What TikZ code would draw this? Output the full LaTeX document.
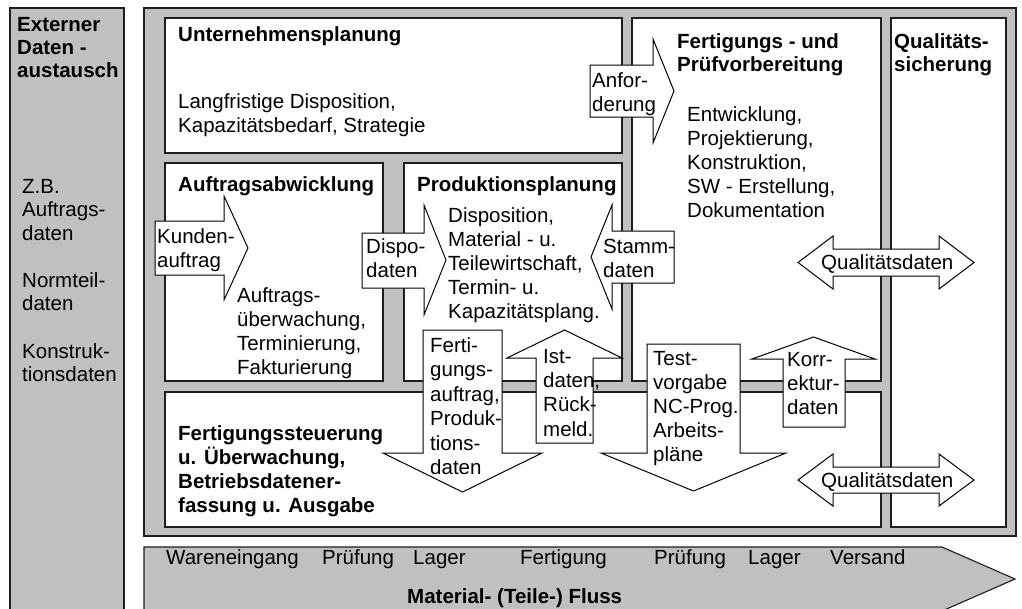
\documentclass[tikz,border=0pt]{standalone}
\usepackage{fontspec}
\setmainfont{Liberation Sans}
\definecolor{panel}{HTML}{C0C0C0}
\definecolor{edge}{HTML}{1E1E1E}
\begin{document}
\begin{tikzpicture}[x=1pt,y=-1pt,
  panelbox/.style={draw=edge, line width=1.1pt, fill=panel},
  whitebox/.style={draw=edge, line width=1.1pt, fill=white},
  blockarrow/.style={draw=black, line width=1pt, fill=white, line join=miter},
  % multi-line texts are placed by the baseline of their last line
  txt/.style={anchor=base west, inner sep=0pt, align=left, font=\fontsize{20.5}{24}\selectfont},
  hd/.style={anchor=base west, inner sep=0pt, align=left, font=\fontsize{20.5}{23.5}\selectfont\bfseries},
  lbl/.style={txt, font=\fontsize{20.5}{24.3}\selectfont},
]
\useasboundingbox (0,0) rectangle (1022,608);
\clip (0,0) rectangle (1022,608);

% side column and main frame
\path[panelbox] (10,8) rectangle (124,630);
\path[panelbox] (144,8) rectangle (1016,536);

% material flow arrow
\path[panelbox] (144,547) -- (942,547) -- (1015,579) -- (942,611) -- (144,611) -- cycle;

% functional areas
\path[whitebox] (165,18) rectangle (622,153);
\path[whitebox] (165,163) rectangle (383,381);
\path[whitebox] (404,163) rectangle (622,381);
\path[whitebox] (632,18) rectangle (881,381);
\path[whitebox] (891,18) rectangle (1006,527);
\path[whitebox] (165,392) rectangle (881,527);

% block arrows for the data flows
\path[blockarrow] (155,221) -- (224,221) -- (224,196) -- (248,248) -- (224,300) -- (224,275) -- (155,275) -- cycle;
\path[blockarrow] (362,233) -- (424,233) -- (424,205) -- (446,260) -- (424,315) -- (424,288) -- (362,288) -- cycle;
\path[blockarrow] (590,65) -- (653,65) -- (653,39) -- (674,91) -- (653,143) -- (653,117) -- (590,117) -- cycle;
\path[blockarrow] (674,231) -- (612,231) -- (612,205) -- (591,257) -- (612,309) -- (612,283) -- (674,283) -- cycle;
\path[blockarrow] (798,262.5) -- (833,236) -- (833,249) -- (939,249) -- (939,236) -- (974,262.5) -- (939,289) -- (939,276) -- (833,276) -- (833,289) -- cycle;
\path[blockarrow] (798,480) -- (833,454) -- (833,467) -- (939,467) -- (939,454) -- (974,480) -- (939,506) -- (939,493) -- (833,493) -- (833,506) -- cycle;
\path[blockarrow] (423,330) -- (502,330) -- (502,453) -- (542,453) -- (462.5,492) -- (383,453) -- (423,453) -- cycle;
\path[blockarrow] (536,443) -- (536,358) -- (507,358) -- (564.5,330) -- (622,358) -- (593,358) -- (593,443) -- cycle;
\path[blockarrow] (647,344) -- (740,344) -- (740,453) -- (786,453) -- (693.5,491) -- (601,453) -- (647,453) -- cycle;
\path[blockarrow] (783,427) -- (783,359) -- (752,359) -- (813.5,337) -- (875,359) -- (845,359) -- (845,427) -- cycle;

% side column texts
\node[hd, font=\fontsize{20.5}{23}\selectfont\bfseries] (ext) at (17,77) {Externer\\Daten -\\austausch};
\node[txt, font=\fontsize{20.5}{23.6}\selectfont] (zb) at (22,240.2) {Z.B.\\Auftrags-\\daten};
\node[txt, font=\fontsize{20.5}{23.6}\selectfont] (norm) at (22,310.6) {Normteil-\\daten};
\node[txt, font=\fontsize{20.5}{23.6}\selectfont] (kons) at (22,381.6) {Konstruk-\\tionsdaten};

% area titles and contents
\node[hd] (uplan) at (178,41) {Unternehmensplanung};
\node[txt] (uplantxt) at (178,132) {Langfristige Disposition,\\Kapazitätsbedarf, Strategie};
\node[hd] (auftr) at (178,191) {Auftragsabwicklung};
\node[txt] (auftrtxt) at (237,374) {Auftrags-\\überwachung,\\Terminierung,\\Fakturierung};
\node[hd] (prod) at (417,191) {Produktionsplanung};
\node[txt] (prodtxt) at (448,318) {Disposition,\\Material - u.\\Teilewirtschaft,\\Termin- u.\\Kapazitätsplang.};
\node[hd] (fert) at (677,71.5) {Fertigungs - und\\Prüfvorbereitung};
\node[txt] (ferttxt) at (687,217) {Entwicklung,\\Projektierung,\\Konstruktion,\\SW - Erstellung,\\Dokumentation};
\node[hd] (qs) at (894,71.5) {Qualitäts-\\sicherung};
\node[hd, font=\fontsize{20.5}{24}\selectfont\bfseries] (steu) at (178,512) {Fertigungssteuerung\\u. Überwachung,\\Betriebsdatener-\\fassung u. Ausgabe};

% arrow labels
\node[lbl] (kunde) at (157,267.3) {Kunden-\\auftrag};
\node[lbl] (dispo) at (366,277.3) {Dispo-\\daten};
\node[lbl] (anf) at (592,111.3) {Anfor-\\derung};
\node[lbl] (stamm) at (603,277.3) {Stamm-\\daten};
\node[lbl, font=\fontsize{20.5}{24.5}\selectfont] (fa) at (430,474.5) {Ferti-\\gungs-\\auftrag,\\Produk-\\tions-\\daten};
\node[lbl] (ist) at (543,436) {Ist-\\daten,\\Rück-\\meld.};
\node[lbl, font=\fontsize{20.5}{24}\selectfont] (test) at (653,461) {Test-\\vorgabe\\NC-Prog.\\Arbeits-\\pläne};
\node[lbl, font=\fontsize{20.5}{24}\selectfont] (korr) at (787,414) {Korr-\\ektur-\\daten};
\node[lbl] (qd1) at (821,269) {Qualitätsdaten};
\node[lbl] (qd2) at (821,487) {Qualitätsdaten};

% material flow stations
\node[txt] (we) at (166,564) {Wareneingang};
\node[txt] (pr1) at (322,564) {Prüfung};
\node[txt] (lg1) at (413,564) {Lager};
\node[txt] (fg) at (520,564) {Fertigung};
\node[txt] (pr2) at (654,564) {Prüfung};
\node[txt] (lg2) at (748,564) {Lager};
\node[txt] (vs) at (830,564) {Versand};
\node[hd] (flow) at (407,603) {Material- (Teile-) Fluss};
\end{tikzpicture}
\end{document}
